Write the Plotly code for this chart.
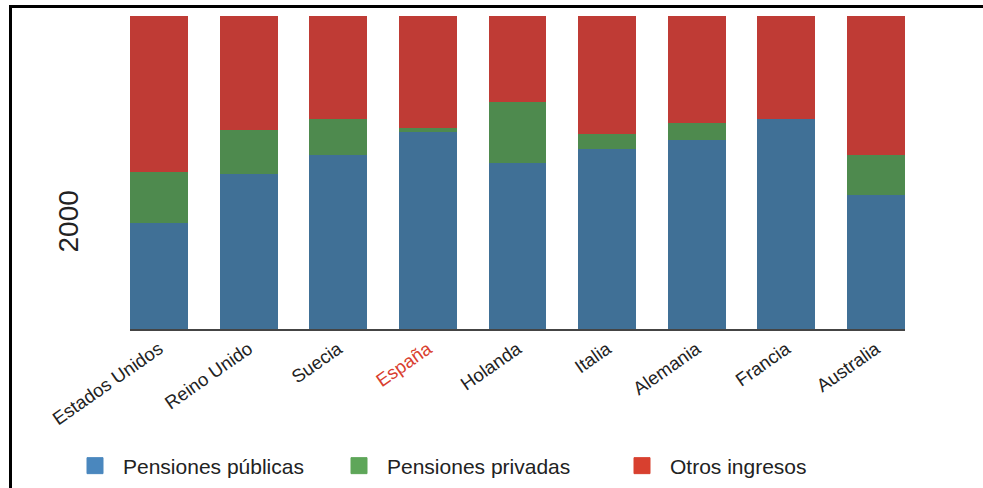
import plotly.graph_objects as go

paises = ["Estados Unidos", "Reino Unido", "Suecia", "España", "Holanda",
          "Italia", "Alemania", "Francia", "Australia"]
etiquetas = ["Estados Unidos", "Reino Unido", "Suecia",
             "<span style='color:#D9402F'>España</span>", "Holanda",
             "Italia", "Alemania", "Francia", "Australia"]
pensiones_publicas = [34.0, 49.5, 55.6, 62.9, 52.9, 57.5, 60.3, 67.0, 42.7]
pensiones_privadas = [16.2, 14.1, 11.4, 1.3, 19.5, 4.8, 5.4, 0.0, 12.8]
otros_ingresos = [49.8, 36.4, 33.0, 35.8, 27.6, 37.7, 34.3, 33.0, 44.5]

series = [
    ("Pensiones públicas", pensiones_publicas, "#407096", "#4A87BE", "legend"),
    ("Pensiones privadas", pensiones_privadas, "#4E8A4E", "#5EA659", "legend2"),
    ("Otros ingresos", otros_ingresos, "#BF3B35", "#D8402F", "legend3"),
]

W, H = 983, 488
L, R, T, B = 130, 78, 16, 159
pw, ph = W - L - R, H - T - B

def px_x(x):
    return (x - L) / pw

def px_y(y):
    return (H - B - y) / ph

fig = go.Figure()
for name, vals, col, _, _ in series:
    fig.add_trace(go.Bar(x=paises, y=vals, name=name, marker=dict(color=col, line=dict(width=0)),
                         showlegend=False))
for name, _, _, lcol, lg in series:
    fig.add_trace(go.Scatter(x=[None], y=[None], mode="markers", name=name, legend=lg,
                             marker=dict(symbol="square", size=16, color=lcol,
                                         line=dict(width=1, color=lcol)),
                             showlegend=True))

font = dict(family="Liberation Sans, Arial, sans-serif", color="#222222")
leg_y = px_y(466)
legend_common = dict(orientation="h", yanchor="middle", y=leg_y, xanchor="left",
                     font=dict(family="Liberation Sans, Arial, sans-serif", size=21, color="#222222"),
                     bgcolor="rgba(0,0,0,0)", itemwidth=46)

fig.update_layout(
    width=W, height=H,
    margin=dict(l=L, r=R, t=T, b=B, autoexpand=False),
    paper_bgcolor="white", plot_bgcolor="white",
    barmode="stack", bargap=0.353,
    font=font,
    xaxis=dict(type="category", categoryorder="array", categoryarray=paises,
               tickvals=paises, ticktext=etiquetas, tickangle=-35,
               range=[-0.3235, 8.3235], showgrid=False, zeroline=False,
               showline=True, linecolor="#444444", linewidth=2, layer="below traces",
               ticks="", tickfont=dict(size=18.5, color="#222222")),
    yaxis=dict(range=[0, 100], visible=False, showgrid=False, zeroline=False),
    legend=dict(legend_common, x=px_x(67)),
    legend2=dict(legend_common, x=px_x(331)),
    legend3=dict(legend_common, x=px_x(614)),
    annotations=[dict(text="2000", textangle=-90, x=px_x(50), y=px_y(222),
                      xref="paper", yref="paper", showarrow=False,
                      font=dict(size=28, color="#222222"))],
    shapes=[
        dict(type="line", xref="paper", yref="paper", x0=px_x(10), x1=px_x(1000),
             y0=px_y(6.5), y1=px_y(6.5), line=dict(color="black", width=3)),
        dict(type="line", xref="paper", yref="paper", x0=px_x(10.5), x1=px_x(10.5),
             y0=px_y(5), y1=px_y(500), line=dict(color="black", width=3)),
    ],
)

fig.write_html("out.html")
